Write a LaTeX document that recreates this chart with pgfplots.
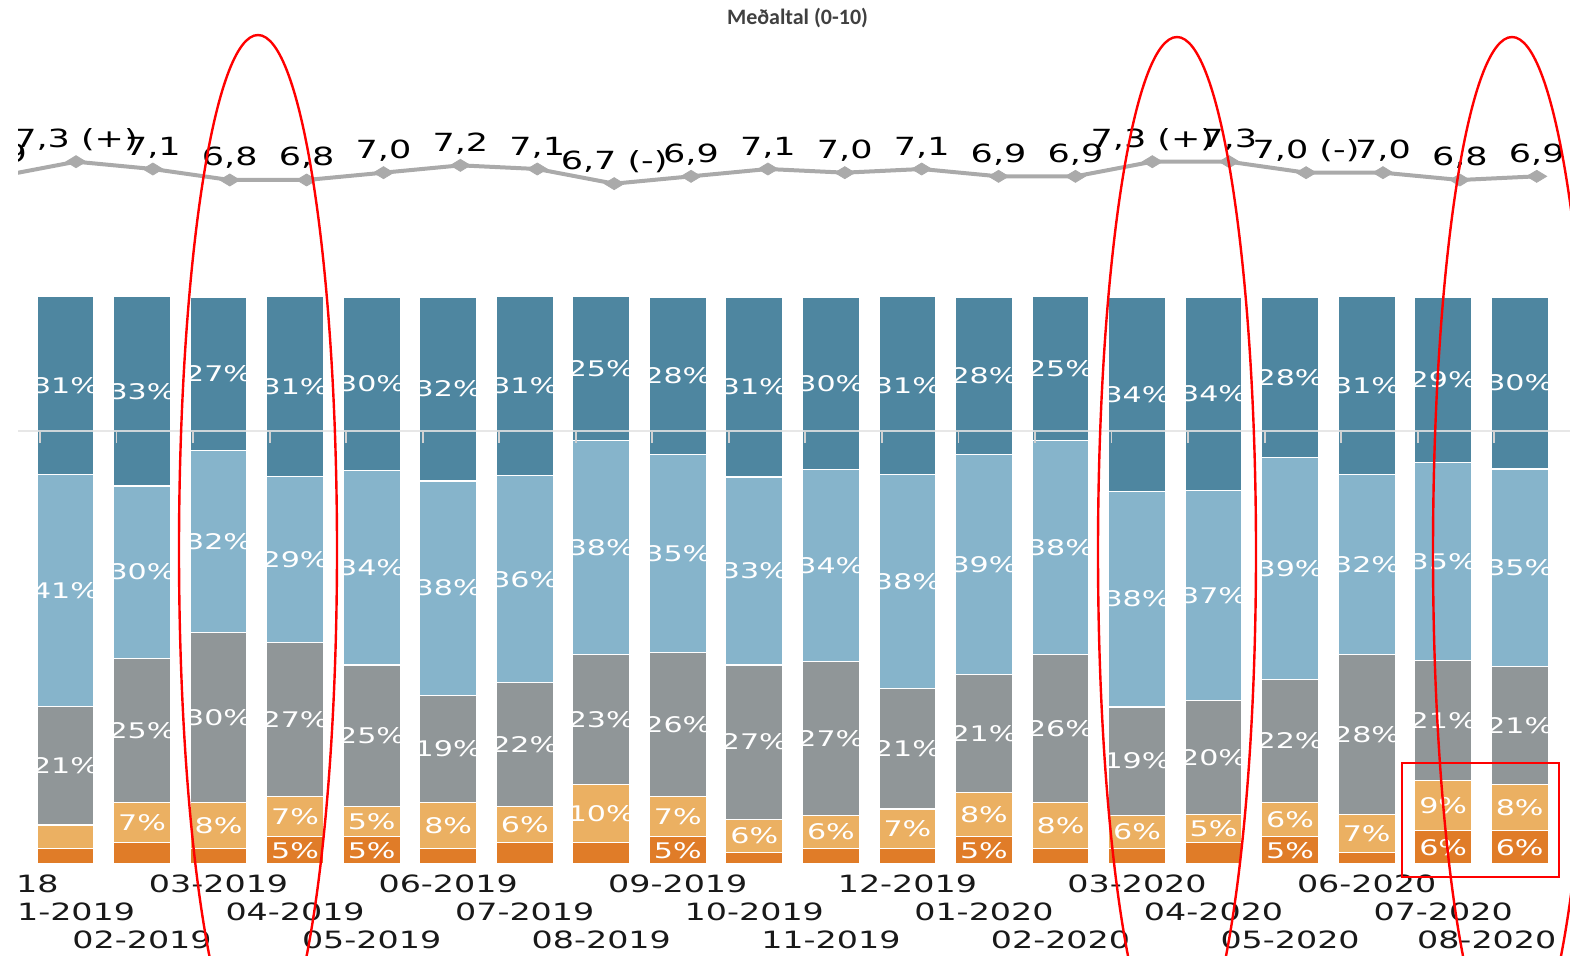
\documentclass[border=0pt]{standalone}
\usepackage{pgfplots}
\pgfplotsset{compat=1.18}
\usepackage{pgfplotstable}
\usepackage{fontspec}
\setmainfont{DejaVu Sans}
\newfontfamily\wide[FakeStretch=1.4]{DejaVu Sans}
\newfontfamily\titlefont{Carlito}

\definecolor{cDB}{HTML}{4E86A0}
\definecolor{cLB}{HTML}{86B4CB}
\definecolor{cG}{HTML}{909698}
\definecolor{cLO}{HTML}{EBB062}
\definecolor{cDO}{HTML}{E07C28}
\definecolor{cLine}{HTML}{AAAAAA}
\definecolor{cTitle}{HTML}{404040}

% staggered tick label rows
\newcommand\rowA[1]{\raisebox{-14pt}{#1}}
\newcommand\rowB[1]{\raisebox{-28.25pt}{#1}}
\newcommand\rowC[1]{\raisebox{-42pt}{#1}}

% shares per month, bottom to top: DO LO G LB DB
\pgfplotstableread{
x  DO  LO   G    LB   DB   lDO   lLO   lG    lLB   lDB
1  2.7 4.2  20.9 40.9 31.4 {}    {}    21\%  41\%  31\%
2  3.8 7.1  25.4 30.4 33.4 {}    7\%   25\%  30\%  33\%
3  2.7 8.1  30.0 32.1 27.1 {}    8\%   30\%  32\%  27\%
4  4.8 7.1  27.2 29.3 31.7 5\%   7\%   27\%  29\%  31\%
5  4.8 5.3  25.0 34.3 30.6 5\%   5\%   25\%  34\%  30\%
6  2.7 8.1  19.0 37.8 32.4 {}    8\%   19\%  38\%  32\%
7  3.8 6.4  21.8 36.5 31.7 {}    6\%   22\%  36\%  31\%
8  3.8 10.2 22.9 37.8 25.4 {}    10\%  23\%  38\%  25\%
9  4.8 7.1  25.4 34.9 27.8 5\%   7\%   26\%  35\%  28\%
10 2.0 5.9  27.2 33.2 31.7 {}    6\%   27\%  33\%  31\%
11 2.7 5.9  27.2 33.8 30.3 {}    6\%   27\%  34\%  30\%
12 2.7 7.0  21.3 37.7 31.4 {}    7\%   21\%  38\%  31\%
13 4.8 7.8  20.8 38.8 27.8 5\%   8\%   21\%  39\%  28\%
14 2.7 8.1  26.1 37.8 25.4 {}    8\%   26\%  38\%  25\%
15 2.7 5.9  19.1 38.1 34.1 {}    6\%   19\%  38\%  34\%
16 3.8 4.9  20.1 37.1 34.1 {}    5\%   20\%  37\%  34\%
17 4.8 6.0  21.8 39.2 28.1 5\%   6\%   22\%  39\%  28\%
18 2.0 6.7  28.2 31.8 31.4 {}    7\%   28\%  32\%  31\%
19 5.9 8.8  21.2 34.9 29.2 6\%   9\%   21\%  35\%  29\%
20 5.9 8.1  20.8 34.9 30.3 6\%   8\%   21\%  35\%  30\%
}\shares
% middle of each segment, for the labels
\pgfplotstablecreatecol[create col/expr={\thisrow{DO}/2}]{cDO}{\shares}
\pgfplotstablecreatecol[create col/expr={\thisrow{DO}+\thisrow{LO}/2}]{cLO}{\shares}
\pgfplotstablecreatecol[create col/expr={\thisrow{DO}+\thisrow{LO}+\thisrow{G}/2}]{cG}{\shares}
\pgfplotstablecreatecol[create col/expr={\thisrow{DO}+\thisrow{LO}+\thisrow{G}+\thisrow{LB}/2}]{cLB}{\shares}
\pgfplotstablecreatecol[create col/expr={\thisrow{DO}+\thisrow{LO}+\thisrow{G}+\thisrow{LB}+\thisrow{DB}/2}]{cDB}{\shares}

% average score (0-10)
\pgfplotstableread{
x  v   lab
0  6.9 {6,9}
1  7.3 {7,3 (+)}
2  7.1 {7,1}
3  6.8 {6,8}
4  6.8 {6,8}
5  7.0 {7,0}
6  7.2 {7,2}
7  7.1 {7,1}
8  6.7 {6,7 (-)}
9  6.9 {6,9}
10 7.1 {7,1}
11 7.0 {7,0}
12 7.1 {7,1}
13 6.9 {6,9}
14 6.9 {6,9}
15 7.3 {7,3 (+)}
16 7.3 {7,3}
17 7.0 {7,0 (-)}
18 7.0 {7,0}
19 6.8 {6,8}
20 6.9 {6,9}
}\mean

\pgfplotsset{
  barframe/.style={
    at={(-24.65pt,45.5pt)}, anchor=south west,
    scale only axis, width=809.65pt, height=283.35pt,
    xmin=-0.5, xmax=20.657, ymin=0, ymax=100,
  },
  seg/.style={fill=#1, draw=white, line width=0.6pt},
}

\begin{document}
\begin{tikzpicture}
\useasboundingbox (0,0) rectangle (785pt,477.5pt);
\clip (9pt,0) rectangle (785pt,477.5pt);

\begin{axis}[
  barframe,
  ybar stacked, bar width=0.745,
  axis line style={draw=none}, ytick=\empty,
  major tick length=0pt,
  xtick={0,...,20},
  xticklabels={\rowA{12-2018},\rowB{01-2019},\rowC{02-2019},
    \rowA{03-2019},\rowB{04-2019},\rowC{05-2019},
    \rowA{06-2019},\rowB{07-2019},\rowC{08-2019},
    \rowA{09-2019},\rowB{10-2019},\rowC{11-2019},
    \rowA{12-2019},\rowB{01-2020},\rowC{02-2020},
    \rowA{03-2020},\rowB{04-2020},\rowC{05-2020},
    \rowA{06-2020},\rowB{07-2020},\rowC{\hspace*{-33pt}08-2020}},
  xticklabel style={anchor=base, inner sep=0pt, text=black!90,
    font=\wide\fontsize{11.9}{14}\selectfont},
]
\addplot[seg=cDO] table[x=x, y=DO] {\shares};
\addplot[seg=cLO] table[x=x, y=LO] {\shares};
\addplot[seg=cG]  table[x=x, y=G]  {\shares};
\addplot[seg=cLB] table[x=x, y=LB] {\shares};
\addplot[seg=cDB] table[x=x, y=DB] {\shares};
\end{axis}

% leftover gridline from the source screenshot
\draw[gray!22, opacity=0.85, line width=1.2pt] (9pt,262pt) -- (785pt,262pt);
\foreach \i in {1,...,20}
  \draw[gray!35, line width=0.9pt] ({(40+(\i-1)*76.537)*0.5pt},262pt) -- ++(0,-6pt);

% segment labels
\begin{axis}[
  barframe, hide axis, clip=false,
  point meta=explicit symbolic,
  nodes near coords={\pgfplotspointmeta},
  every node near coord/.append style={anchor=center, text=white,
    font=\wide\fontsize{10.75}{12}\selectfont},
]
\addplot[draw=none, mark=none] table[x=x, y=cDO, meta=lDO] {\shares};
\addplot[draw=none, mark=none] table[x=x, y=cLO, meta=lLO] {\shares};
\addplot[draw=none, mark=none] table[x=x, y=cG,  meta=lG]  {\shares};
\addplot[draw=none, mark=none] table[x=x, y=cLB, meta=lLB] {\shares};
\addplot[draw=none, mark=none] table[x=x, y=cDB, meta=lDB] {\shares};
\end{axis}

\begin{axis}[
  at={(-19.66pt,372.86pt)}, anchor=south west,
  scale only axis, width=814.93pt, height=36.6pt,
  xmin=-0.5, xmax=20.7, ymin=6, ymax=8,
  hide axis, clip=false,
]
\addplot[cLine, line width=2pt, mark=diamond*, mark size=3pt,
  mark options={xscale=2.2, line width=0.4pt, fill=cLine, draw=cLine},
  point meta=explicit symbolic, nodes near coords={\pgfplotspointmeta},
  every node near coord/.append style={anchor=base, yshift=7pt, text=black,
    font=\wide\fontsize{12.5}{14}\selectfont}]
  table[x=x, y=v, meta=lab] {\mean};
\end{axis}

\node[anchor=base, text=cTitle, font=\titlefont\bfseries\fontsize{11}{13}\selectfont]
  at (398.75pt,465pt) {Meðaltal (0-10)};

% red annotations
\draw[red, line width=1.2pt] (129pt,202.5pt) ellipse [x radius=39.5pt, y radius=257.5pt];
\draw[red, line width=1.2pt] (588.5pt,201.5pt) ellipse [x radius=39.5pt, y radius=257.5pt];
\draw[red, line width=1.2pt] (756pt,201.5pt) ellipse [x radius=39.5pt, y radius=257.5pt];
\draw[red, line width=1pt] (701pt,39pt) rectangle (779.5pt,96pt);
\end{tikzpicture}
\end{document}
